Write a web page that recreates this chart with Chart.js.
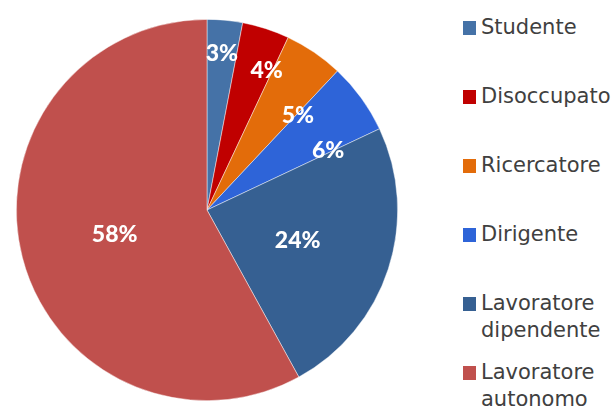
<!DOCTYPE html>
<html>
<head>
<meta charset="utf-8">
<script src="https://cdn.jsdelivr.net/npm/chart.js@4/dist/chart.umd.min.js"></script>
<style>
  html, body { margin: 0; padding: 0; background: #fff; }
  body { width: 614px; height: 408px; position: relative; overflow: hidden; font-family: "DejaVu Sans", sans-serif; }
  #pie-box { position: absolute; left: 16px; top: 19px; width: 382px; height: 382px; }
  #legend { position: absolute; left: 463px; top: 14px; }
  .leg-item { height: 69px; display: flex; align-items: flex-start; }
  .leg-swatch { width: 13px; height: 14px; margin-top: 7px; margin-right: 5px; flex: none; }
  .leg-text { font-size: 21px; line-height: 27px; color: #404040; white-space: nowrap; }
</style>
</head>
<body>
<div id="pie-box"><canvas id="pieChart"></canvas></div>
<div id="legend"></div>
<script>
const categories = ['Studente', 'Disoccupato', 'Ricercatore', 'Dirigente', 'Lavoratore dipendente', 'Lavoratore autonomo'];
const legendLines = [['Studente'], ['Disoccupato'], ['Ricercatore'], ['Dirigente'], ['Lavoratore', 'dipendente'], ['Lavoratore', 'autonomo']];
const percentages = [3, 4, 5, 6, 24, 58];
const colors = ['#4572a7', '#c00000', '#e36c0a', '#2e64d8', '#366092', '#c0504d'];

// label placement: fraction of radius, and clockwise nudge in degrees (best-fit look)
const labelRadius = [0.83, 0.80, 0.69, 0.71, 0.5, 0.5];
const labelNudge = [0, 5, 9.5, 9.5, 0, 0];

const pctLabels = {
  id: 'pctLabels',
  afterDatasetsDraw(chart) {
    const ctx = chart.ctx;
    const meta = chart.getDatasetMeta(0);
    ctx.save();
    ctx.fillStyle = '#fff';
    ctx.font = '900 23px Lato, sans-serif';
    ctx.textAlign = 'center';
    ctx.textBaseline = 'middle';
    meta.data.forEach((arc, i) => {
      const p = arc.getProps(['x', 'y', 'startAngle', 'endAngle', 'outerRadius'], true);
      const mid = (p.startAngle + p.endAngle) / 2 + labelNudge[i] * Math.PI / 180;
      const r = p.outerRadius * labelRadius[i];
      ctx.fillText(percentages[i] + '%', p.x + Math.cos(mid) * r, p.y + Math.sin(mid) * r + 1);
    });
    ctx.restore();
  }
};

new Chart(document.getElementById('pieChart').getContext('2d'), {
  type: 'pie',
  data: {
    labels: categories,
    datasets: [{
      data: percentages,
      backgroundColor: colors,
      borderColor: 'rgba(255,255,255,0.6)',
      borderWidth: 0.75
    }]
  },
  options: {
    responsive: true,
    maintainAspectRatio: false,
    animation: false,
    layout: { padding: 0 },
    plugins: {
      legend: { display: false },
      tooltip: { enabled: false }
    }
  },
  plugins: [pctLabels]
});

const legendBox = document.getElementById('legend');
categories.forEach((cat, i) => {
  const item = document.createElement('div');
  item.className = 'leg-item';
  item.innerHTML = `<div class="leg-swatch" style="background:${colors[i]}"></div>
    <div class="leg-text">${legendLines[i].join('<br>')}</div>`;
  legendBox.appendChild(item);
});
</script>
</body>
</html>
